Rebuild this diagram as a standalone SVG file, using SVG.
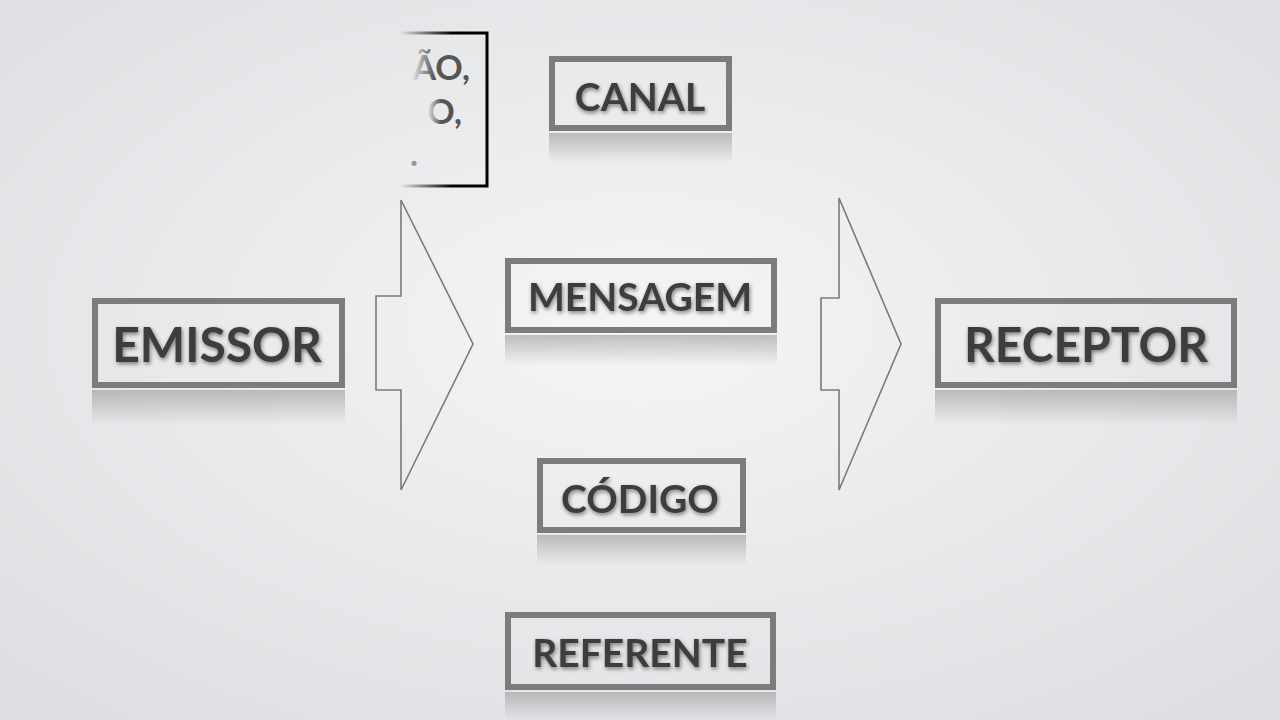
<svg xmlns="http://www.w3.org/2000/svg" width="1280" height="720" viewBox="0 0 1280 720">
<defs>
<radialGradient id="bg" cx="0.5" cy="0.45" r="0.75"><stop offset="0" stop-color="#f5f5f7"/><stop offset="1" stop-color="#dcdde0"/></radialGradient>
<linearGradient id="fadeL" x1="0" y1="0" x2="1" y2="0"><stop offset="0" stop-color="#000" stop-opacity="0"/><stop offset="0.6" stop-color="#000"/></linearGradient>
<linearGradient id="fadeT" x1="0" y1="0" x2="1" y2="0"><stop offset="0" stop-color="#555" stop-opacity="0"/><stop offset="0.4" stop-color="#555"/></linearGradient>
<linearGradient id="refl" x1="0" y1="0" x2="0" y2="1"><stop offset="0" stop-color="#888" stop-opacity="0.5"/><stop offset="1" stop-color="#888" stop-opacity="0"/></linearGradient>
<filter id="sh" x="-10%" y="-30%" width="120%" height="160%"><feGaussianBlur in="SourceAlpha" stdDeviation="2"/><feOffset dx="1" dy="2"/><feComponentTransfer><feFuncA type="linear" slope="0.5"/></feComponentTransfer><feMerge><feMergeNode/><feMergeNode in="SourceGraphic"/></feMerge></filter>
</defs>
<style>
.box{fill:none;stroke:#7b7c7b;stroke-width:6}
.t{font-family:Lato,"Open Sans",sans-serif;font-weight:bold;fill:#3e3e3e;text-anchor:middle;filter:url(#sh)}
.r{fill:url(#refl)}
.arr{fill:none;stroke:#7a7a7a;stroke-width:1.6}
</style>
<rect width="1280" height="720" fill="url(#bg)"/>
<g id="partial">
<path d="M400 33 H487 V186 H400" fill="none" stroke="url(#fadeL)" stroke-width="3"/>
<text x="470" y="80" font-family="Lato,sans-serif" font-weight="bold" font-size="34" fill="url(#fadeT)" text-anchor="end">ÃO,</text>
<text x="462" y="124" font-family="Lato,sans-serif" font-weight="bold" font-size="34" fill="url(#fadeT)" text-anchor="end">O,</text>
<text x="418" y="166" font-family="Lato,sans-serif" font-weight="bold" font-size="34" fill="#999" text-anchor="end">.</text>
</g>
<g id="connectors">
<polygon class="arr" points="376,296 401,296 401,200 473,344 401,490 401,390 376,390"/>
<polygon class="arr" points="821,298 839,298 839,198 901,344 839,490 839,390 821,390"/>
</g>
<g id="canal"><rect class="box" x="552" y="59" width="177" height="69"/><rect class="r" x="549" y="133" width="183" height="30"/><text class="t" x="640" y="111" font-size="39">CANAL</text></g>
<g id="mensagem"><rect class="box" x="508" y="261" width="266" height="69"/><rect class="r" x="505" y="335" width="272" height="30"/><text class="t" x="640" y="311" font-size="39">MENSAGEM</text></g>
<g id="emissor"><rect class="box" x="95" y="301" width="247" height="84"/><rect class="r" x="92" y="390" width="253" height="35"/><text class="t" x="217" y="362" font-size="48">EMISSOR</text></g>
<g id="receptor"><rect class="box" x="938" y="301" width="296" height="84"/><rect class="r" x="935" y="390" width="302" height="35"/><text class="t" x="1086" y="362" font-size="48">RECEPTOR</text></g>
<g id="codigo"><rect class="box" x="540" y="461" width="203" height="69"/><rect class="r" x="537" y="535" width="209" height="30"/><text class="t" x="640" y="513" font-size="39">CÓDIGO</text></g>
<g id="referente"><rect class="box" x="508" y="615" width="265" height="72"/><rect class="r" x="505" y="692" width="271" height="28"/><text class="t" x="640" y="667" font-size="39">REFERENTE</text></g>
</svg>
